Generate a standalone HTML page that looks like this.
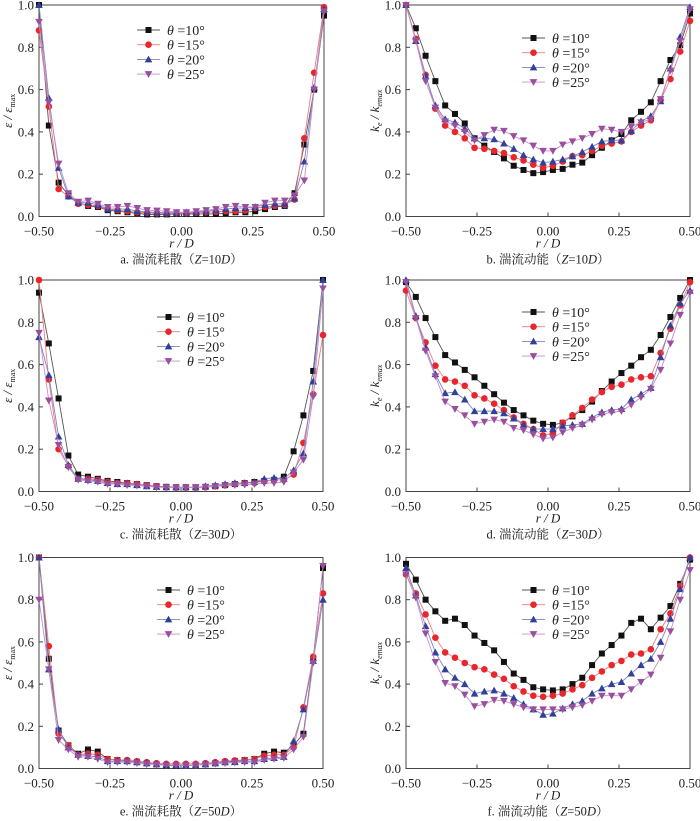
<!DOCTYPE html>
<html><head><meta charset="utf-8"><style>
body{margin:0;background:#fff;}
svg{display:block;font-family:"Liberation Serif","Noto Serif CJK SC",serif;}
</style></head><body>
<svg id="fig" width="700" height="821" viewBox="0 0 700 821"></svg>
<script>
// x positions (r/D), 30 points
const xCount = 30;
const xMin = -0.5, xMax = 0.5;
const xTicks = [-0.5, -0.25, 0, 0.25, 0.5];
const xTickLabels = ["\u22120.50", "\u22120.25", "0.00", "0.25", "0.50"];
const yTicks = [0, 0.2, 0.4, 0.6, 0.8, 1.0];
const yTickLabels = ["0.0", "0.2", "0.4", "0.6", "0.8", "1.0"];
const seriesNames = ["\u03b8 =10\u00b0", "\u03b8 =15\u00b0", "\u03b8 =20\u00b0", "\u03b8 =25\u00b0"];

const a10=[1.0,0.43,0.16,0.10,0.065,0.05,0.045,0.03,0.025,0.02,0.015,0.01,0.01,0.01,0.012,0.012,0.012,0.012,0.012,0.015,0.02,0.02,0.025,0.035,0.045,0.05,0.11,0.34,0.60,0.95];
const a15=[0.88,0.52,0.13,0.095,0.06,0.055,0.05,0.035,0.03,0.025,0.02,0.018,0.015,0.015,0.015,0.015,0.018,0.02,0.022,0.025,0.025,0.028,0.04,0.045,0.05,0.055,0.08,0.37,0.68,0.99];
const a20=[1.0,0.56,0.23,0.095,0.065,0.065,0.055,0.035,0.035,0.035,0.025,0.022,0.02,0.018,0.018,0.02,0.022,0.025,0.03,0.035,0.04,0.04,0.045,0.055,0.06,0.06,0.085,0.26,0.61,0.98];
const a25=[0.92,0.54,0.25,0.11,0.07,0.075,0.06,0.045,0.045,0.05,0.04,0.03,0.028,0.025,0.02,0.02,0.025,0.03,0.035,0.045,0.05,0.045,0.045,0.065,0.075,0.075,0.10,0.17,0.60,0.97];

const b10=[1.0,0.89,0.76,0.64,0.525,0.485,0.44,0.37,0.335,0.305,0.275,0.24,0.22,0.205,0.21,0.22,0.225,0.245,0.255,0.29,0.325,0.36,0.39,0.455,0.495,0.54,0.64,0.74,0.81,0.96];
const b15=[1.0,0.84,0.67,0.51,0.43,0.40,0.37,0.325,0.32,0.31,0.30,0.28,0.265,0.245,0.23,0.24,0.26,0.285,0.29,0.31,0.335,0.345,0.355,0.40,0.43,0.455,0.55,0.65,0.78,0.925];
const b20=[1.0,0.83,0.665,0.525,0.46,0.445,0.415,0.37,0.37,0.365,0.345,0.32,0.29,0.27,0.255,0.26,0.27,0.285,0.305,0.33,0.355,0.36,0.36,0.405,0.45,0.475,0.545,0.70,0.85,0.99];
const b25=[1.0,0.83,0.64,0.515,0.45,0.43,0.40,0.36,0.385,0.41,0.405,0.38,0.36,0.335,0.31,0.31,0.34,0.355,0.37,0.39,0.415,0.41,0.40,0.425,0.445,0.46,0.555,0.69,0.83,0.98];

const c10=[0.94,0.70,0.44,0.17,0.08,0.07,0.06,0.05,0.045,0.04,0.035,0.03,0.025,0.022,0.02,0.02,0.02,0.022,0.025,0.03,0.035,0.04,0.045,0.05,0.055,0.07,0.19,0.36,0.57,1.0];
const c15=[1.0,0.53,0.20,0.12,0.06,0.06,0.055,0.045,0.04,0.04,0.035,0.03,0.025,0.02,0.018,0.018,0.018,0.02,0.025,0.03,0.035,0.04,0.04,0.05,0.055,0.055,0.08,0.23,0.46,0.74];
const c20=[0.73,0.55,0.26,0.125,0.06,0.055,0.05,0.04,0.035,0.035,0.03,0.025,0.022,0.02,0.02,0.02,0.02,0.025,0.03,0.035,0.04,0.04,0.045,0.06,0.065,0.06,0.10,0.18,0.52,1.0];
const c25=[0.75,0.43,0.22,0.115,0.055,0.05,0.045,0.035,0.035,0.03,0.028,0.025,0.02,0.02,0.018,0.018,0.02,0.022,0.025,0.028,0.03,0.032,0.035,0.04,0.04,0.045,0.09,0.15,0.45,0.96];

const d10=[0.99,0.92,0.82,0.73,0.645,0.61,0.575,0.54,0.50,0.46,0.42,0.385,0.36,0.335,0.32,0.315,0.325,0.355,0.385,0.425,0.475,0.52,0.56,0.595,0.635,0.67,0.74,0.825,0.915,1.0];
const d15=[0.95,0.82,0.705,0.595,0.53,0.52,0.50,0.455,0.44,0.415,0.385,0.35,0.32,0.295,0.265,0.275,0.325,0.36,0.395,0.435,0.47,0.495,0.505,0.53,0.54,0.545,0.655,0.77,0.88,0.99];
const d20=[1.0,0.83,0.68,0.555,0.465,0.47,0.435,0.38,0.38,0.38,0.37,0.345,0.315,0.295,0.295,0.295,0.31,0.315,0.32,0.35,0.375,0.385,0.39,0.435,0.46,0.49,0.635,0.785,0.89,0.95];
const d25=[0.99,0.82,0.665,0.545,0.425,0.39,0.36,0.32,0.33,0.34,0.33,0.30,0.29,0.27,0.25,0.255,0.28,0.30,0.315,0.34,0.365,0.375,0.38,0.41,0.445,0.485,0.575,0.70,0.835,0.94];

const e10=[1.0,0.52,0.18,0.11,0.07,0.09,0.08,0.045,0.04,0.035,0.03,0.025,0.02,0.015,0.012,0.015,0.015,0.02,0.025,0.03,0.035,0.04,0.045,0.07,0.08,0.075,0.11,0.165,0.52,0.95];
const e15=[1.0,0.58,0.165,0.11,0.065,0.07,0.065,0.045,0.04,0.04,0.035,0.03,0.025,0.022,0.022,0.022,0.022,0.025,0.03,0.035,0.038,0.04,0.045,0.06,0.065,0.065,0.10,0.29,0.53,0.83];
const e20=[1.0,0.47,0.185,0.10,0.065,0.06,0.055,0.035,0.035,0.035,0.03,0.025,0.02,0.018,0.015,0.015,0.015,0.02,0.025,0.03,0.03,0.035,0.035,0.045,0.05,0.055,0.13,0.28,0.51,0.80];
const e25=[0.80,0.47,0.135,0.09,0.055,0.055,0.045,0.03,0.03,0.03,0.025,0.02,0.018,0.015,0.015,0.015,0.015,0.018,0.022,0.025,0.028,0.03,0.03,0.04,0.045,0.05,0.09,0.15,0.50,0.96];

const f10=[0.97,0.895,0.80,0.745,0.70,0.71,0.68,0.63,0.595,0.56,0.505,0.45,0.42,0.385,0.375,0.37,0.375,0.40,0.43,0.49,0.545,0.585,0.63,0.69,0.71,0.66,0.715,0.77,0.875,0.99];
const f15=[0.92,0.83,0.73,0.62,0.55,0.525,0.50,0.48,0.47,0.445,0.425,0.39,0.365,0.345,0.34,0.345,0.355,0.375,0.395,0.43,0.46,0.49,0.51,0.54,0.545,0.565,0.66,0.735,0.865,1.0];
const f20=[0.95,0.82,0.675,0.55,0.47,0.43,0.40,0.355,0.365,0.37,0.355,0.335,0.305,0.28,0.255,0.26,0.285,0.305,0.32,0.355,0.38,0.40,0.41,0.45,0.49,0.52,0.60,0.71,0.85,1.0];
const f25=[0.92,0.81,0.64,0.505,0.405,0.39,0.35,0.295,0.305,0.325,0.32,0.305,0.29,0.28,0.28,0.28,0.28,0.29,0.30,0.32,0.345,0.345,0.345,0.375,0.41,0.445,0.525,0.65,0.80,0.94];

const NS="http://www.w3.org/2000/svg";
const svg=document.getElementById('fig');
const colors=["#111111","#e8262b","#33409a","#9a4f9e"];
const lineColors=["#555555","#f07a80","#7a86c4","#c58cc8"];
const kinds=["square","circle","up","down"];

function mk(tag,attrs,parent){const e=document.createElementNS(NS,tag);for(const k in attrs)e.setAttribute(k,attrs[k]);(parent||svg).appendChild(e);return e;}

function marker(g,kind,cx,cy,color){
  let m;
  if(kind==="square") m=mk('rect',{x:cx-3,y:cy-3,width:6,height:6,fill:color},g);
  else if(kind==="circle") m=mk('circle',{cx:cx,cy:cy,r:3.3,fill:color},g);
  else if(kind==="up") m=mk('polygon',{points:`${cx},${cy-3.8} ${cx-3.8},${cy+3} ${cx+3.8},${cy+3}`,fill:color},g);
  else m=mk('polygon',{points:`${cx},${cy+3.8} ${cx-3.8},${cy-3} ${cx+3.8},${cy-3}`,fill:color},g);
  return m;
}

function panel(id,L,R,T,B,series,yTitleK,caption,legX,legY){
  const g=mk('g',{});
  
  
  const sx=v=>L+(v-xMin)/(xMax-xMin)*(R-L);
  const sy=v=>B-v*(B-T);
  const fr=mk('rect',{x:L,y:T,width:R-L,height:B-T,fill:'none',stroke:'#444','stroke-width':1},g);
  
  
  xTicks.forEach((t,i)=>{
    const x=sx(t);
    mk('line',{x1:x,y1:B,x2:x,y2:B-4,stroke:'#444','stroke-width':1},g);
    const tx=mk('text',{x:x,y:B+19,'font-size':13,'text-anchor':'middle',fill:'#222'},g);
    tx.textContent=xTickLabels[i];
    
    
  });
  yTicks.forEach((t,i)=>{
    const y=sy(t);
    mk('line',{x1:L,y1:y,x2:L+4,y2:y,stroke:'#444','stroke-width':1},g);
    const ty=mk('text',{x:L-5,y:y+4.5,'font-size':13,'text-anchor':'end',fill:'#222'},g);
    ty.textContent=yTickLabels[i];
    
    
  });
  const xt=mk('text',{x:(L+R)/2,y:B+31,'font-size':13,'font-style':'italic','text-anchor':'middle',fill:'#222'},g);
  xt.textContent='r / D';
  
  
  const yt=mk('text',{transform:`translate(${L-27},${(T+B)/2}) rotate(-90)`,'font-size':13,'font-style':'italic','text-anchor':'middle',fill:'#222'},g);
  if(yTitleK){ yt.innerHTML='k<tspan font-size="8" dy="3">e</tspan><tspan dy="-3"> / k</tspan><tspan font-size="8" dy="3">emax</tspan>'; }
  else { yt.innerHTML='\u03b5 / \u03b5<tspan font-size="8" dy="3" font-style="normal">max</tspan>'; }
  
  
  const cp=mk('text',{x:(L+R)/2,y:B+47,'font-size':12.5,'text-anchor':'middle',fill:'#222'},g);
  cp.innerHTML=caption;
  
  
  series.forEach((vals,si)=>{
    const sg=mk('g',{},g);
    
    
    const pts=vals.map((v,i)=>`${sx(xMin+i*(xMax-xMin)/(xCount-1)).toFixed(2)},${sy(v).toFixed(2)}`).join(' ');
    const pl=mk('polyline',{points:pts,fill:'none',stroke:lineColors[si],'stroke-width':0.9},sg);
    
    
    vals.forEach((v,i)=>{
      const m=marker(sg,kinds[si],sx(xMin+i*(xMax-xMin)/(xCount-1)),sy(v),colors[si]);
      
      
    });
  });
  const lg=mk('g',{},g);
  
  
  seriesNames.forEach((n,si)=>{
    const y=legY+si*14.7;
    const e=mk('g',{},lg);
    
    
    mk('line',{x1:legX,y1:y,x2:legX+23,y2:y,stroke:lineColors[si],'stroke-width':0.9},e);
    marker(e,kinds[si],legX+11.5,y,colors[si]);
    const t=mk('text',{x:legX+30,y:y+5,'font-size':14,fill:'#222'},e);
    t.innerHTML='<tspan font-style="italic">\u03b8</tspan> ='+(10+5*si)+'\u00b0';
  });
}

panel('a',39,324,5,216.5,[a10,a15,a20,a25],false,'a. 湍流耗散（<tspan font-style="italic">Z</tspan>=10<tspan font-style="italic">D</tspan>）',137,30);
panel('b',406,690,5,216.5,[b10,b15,b20,b25],true,'b. 湍流动能（<tspan font-style="italic">Z</tspan>=10<tspan font-style="italic">D</tspan>）',522,38);
panel('c',39,323,280,491.5,[c10,c15,c20,c25],false,'c. 湍流耗散（<tspan font-style="italic">Z</tspan>=30<tspan font-style="italic">D</tspan>）',157,317);
panel('d',406,690,280,491.5,[d10,d15,d20,d25],true,'d. 湍流动能（<tspan font-style="italic">Z</tspan>=30<tspan font-style="italic">D</tspan>）',522,312);
panel('e',39,323,557.5,768.5,[e10,e15,e20,e25],false,'e. 湍流耗散（<tspan font-style="italic">Z</tspan>=50<tspan font-style="italic">D</tspan>）',157,590);
panel('f',406,690,557.5,768.5,[f10,f15,f20,f25],true,'f. 湍流动能（<tspan font-style="italic">Z</tspan>=50<tspan font-style="italic">D</tspan>）',522,590);
</script>
</body></html>
